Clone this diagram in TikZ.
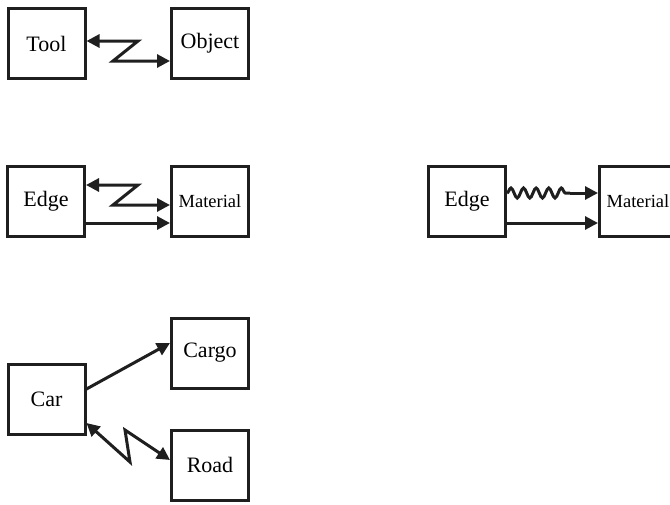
\documentclass[tikz,border=0pt]{standalone}
\usepackage{fontspec}
\setmainfont{Liberation Serif}
\usetikzlibrary{arrows.meta,decorations.pathmorphing}
\begin{document}
\begin{tikzpicture}[x=1pt,y=-1pt,
  box/.style={draw=black!88, line width=3pt, minimum width=77pt, minimum height=70pt,
    inner sep=0pt, font=\fontsize{22}{24}\selectfont},
  small/.style={font=\fontsize{18.5}{21}\selectfont},
  conn/.style={line width=3pt, draw=black!88, line join=miter},
  tip/.style={-{Triangle[length=13pt,width=13pt]}},
  tips/.style={{Triangle[length=13pt,width=13pt]}-{Triangle[length=13pt,width=13pt]}}]
\clip (0,0) rectangle (670,504);
\fill[white] (0,0) rectangle (670,504);
% row 1
\node[box] (tool) at (46.5,43.5) {Tool};
\node[box] (obj) at (210,43.5) {Object};
\draw[conn,tips] ([yshift=2.5pt]tool.east) -- (138,41) -- (113,61) -- ([yshift=-17.5pt]obj.west);
% row 2 left
\node[box] (edgeA) at (46,201.5) {Edge};
\node[box,small] (matA) at (210,201.5) {Material};
\draw[conn,tips] ([yshift=16.5pt]edgeA.east) -- (138,185) -- (113,205) -- ([yshift=-3.5pt]matA.west);
\draw[conn,tip] ([yshift=-21.5pt]edgeA.east) -- ([yshift=-21.5pt]matA.west);
% row 2 right
\node[box] (edgeB) at (467,201.5) {Edge};
\node[box,small] (matB) at (638,201.5) {Material};
\coordinate (wend) at (570,193);
\draw[conn,decorate,decoration={snake,segment length=12.6pt,amplitude=5pt}] ([yshift=8.5pt]edgeB.east) -- (wend);
\draw[conn,tip] (wend) -- ([yshift=8.5pt]matB.west);
\draw[conn,tip] ([yshift=-21.5pt]edgeB.east) -- ([yshift=-21.5pt]matB.west);
% row 3
\node[box] (car) at (46.5,399.5) {Car};
\node[box] (cargo) at (210,353) {Cargo};
\node[box] (road) at (210,465) {Road};
\draw[conn,tip] ([yshift=10.5pt]car.east) -- ([yshift=10pt]cargo.west);
\draw[conn,tips] ([yshift=-23.5pt]car.east) -- (130,462) -- (125,430) -- ([yshift=5pt]road.west);
\end{tikzpicture}
\end{document}
